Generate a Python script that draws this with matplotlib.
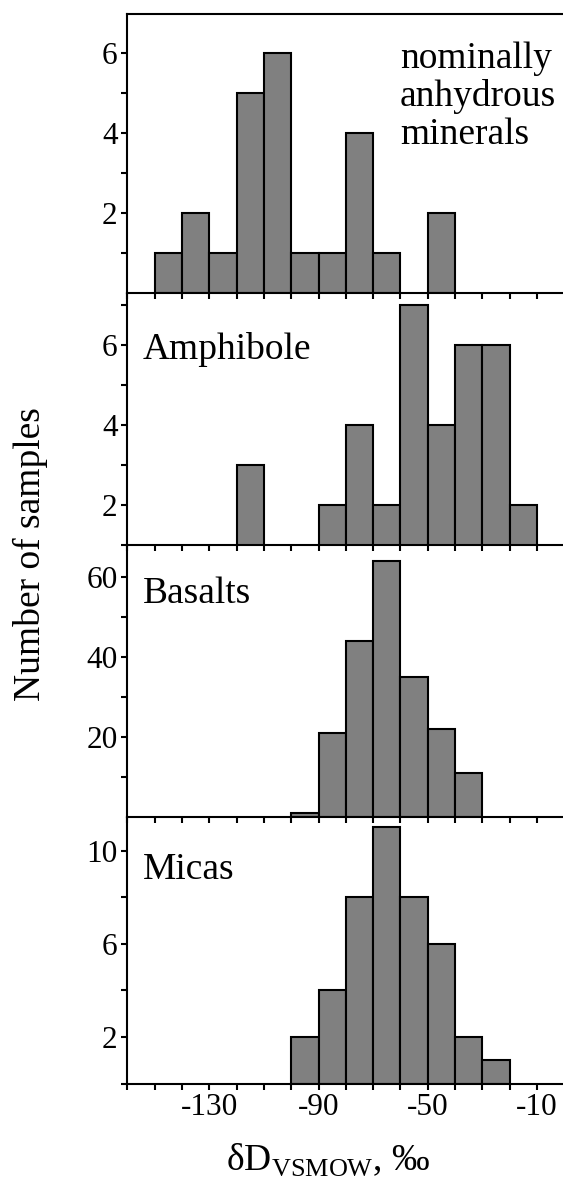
import matplotlib
matplotlib.use('Agg')
import matplotlib.pyplot as plt
import numpy as np
from matplotlib.ticker import FixedLocator

plt.rcParams['font.family'] = ['Liberation Serif', 'DejaVu Serif']
plt.rcParams['mathtext.fontset'] = 'custom'
plt.rcParams['mathtext.rm'] = 'Liberation Serif'

# bin left edges (permil) and counts for each panel
nam_left = [-150, -140, -130, -120, -110, -100, -90, -80, -70, -50]
nam_count = [1, 2, 1, 5, 6, 1, 1, 4, 1, 2]

amph_left = [-120, -90, -80, -70, -60, -50, -40, -30, -20]
amph_count = [3, 2, 4, 2, 7, 4, 6, 6, 2]

bas_left = [-100, -90, -80, -70, -60, -50, -40]
bas_count = [1, 21, 44, 64, 35, 22, 11]

mica_left = [-100, -90, -80, -70, -60, -50, -40, -30]
mica_count = [2, 4, 8, 11, 8, 6, 2, 1]

labels = ['nominally\nanhydrous\nminerals', 'Amphibole', 'Basalts', 'Micas']
xtick_labels = ['-130', '-90', '-50', '-10']

W, H = 563, 1184
fig = plt.figure(figsize=(W / 100, H / 100), dpi=100)

# panel geometry in pixels (top, bottom)
left_px, right_px = 127.3, 563
panels_px = [(14, 293.3), (293.3, 545), (545, 816.7), (816.7, 1083.5)]
ylims = [(0, 6.98), (1, 7.29), (0, 67.9), (0, 11.46)]
ymajor = [[2, 4, 6], [2, 4, 6], [20, 40, 60], [2, 6, 10]]
yminor = [[1, 3, 5], [1, 3, 5, 7], [10, 30, 50], [0, 4, 8]]
data = [(nam_left, nam_count), (amph_left, amph_count),
        (bas_left, bas_count), (mica_left, mica_count)]

fs_tick = 22.5
fs_lab = 27
lw = 1.5

axes = []
for i, (top, bot) in enumerate(panels_px):
    ax = fig.add_axes([left_px / W, 1 - bot / H, (right_px - left_px) / W, (bot - top) / H])
    lefts, counts = data[i]
    ax.bar(lefts, counts, width=10, align='edge', color='#808080',
           edgecolor='black', linewidth=lw, zorder=2)
    ax.set_xlim(-160, -0.5)
    ax.set_ylim(*ylims[i])
    ax.spines['right'].set_visible(False)
    if i > 0:
        ax.spines['top'].set_visible(False)
    for s in ['left', 'bottom', 'top']:
        ax.spines[s].set_linewidth(lw)
    ax.yaxis.set_major_locator(FixedLocator(ymajor[i]))
    ax.yaxis.set_minor_locator(FixedLocator(yminor[i]))
    ax.xaxis.set_major_locator(FixedLocator([-130, -90, -50, -10]))
    ax.xaxis.set_minor_locator(FixedLocator(np.arange(-160, 0, 10)))
    ax.tick_params(which='both', direction='out', length=4, width=lw,
                   labelsize=fs_tick, pad=3)
    if i < 3:
        ax.tick_params(axis='x', labelbottom=False)
    else:
        ax.set_xticklabels(xtick_labels)
    ax.set_facecolor('none')
    axes.append(ax)

# panel labels
nam_lines = labels[0].split('\n')
for y, line in zip([0.807, 0.672, 0.535], nam_lines):
    axes[0].text(0.626, y, line, transform=axes[0].transAxes, fontsize=fs_lab,
                 ha='left', va='baseline')
axes[1].text(0.035, 0.739, labels[1], transform=axes[1].transAxes,
             fontsize=fs_lab, ha='left', va='baseline')
axes[2].text(0.035, 0.788, labels[2], transform=axes[2].transAxes,
             fontsize=fs_lab, ha='left', va='baseline')
axes[3].text(0.035, 0.766, labels[3], transform=axes[3].transAxes,
             fontsize=fs_lab, ha='left', va='baseline')

fig.text(30 / W, 1 - 554 / H, 'Number of samples', rotation=90,
         fontsize=fs_lab, ha='center', va='center')
fig.text(328 / W, 1 - 1170 / H, 'δD$_{\\mathrm{VSMOW}}$, ‰', fontsize=fs_lab,
         ha='center', va='baseline')

fig.savefig('out.png', dpi=100)
